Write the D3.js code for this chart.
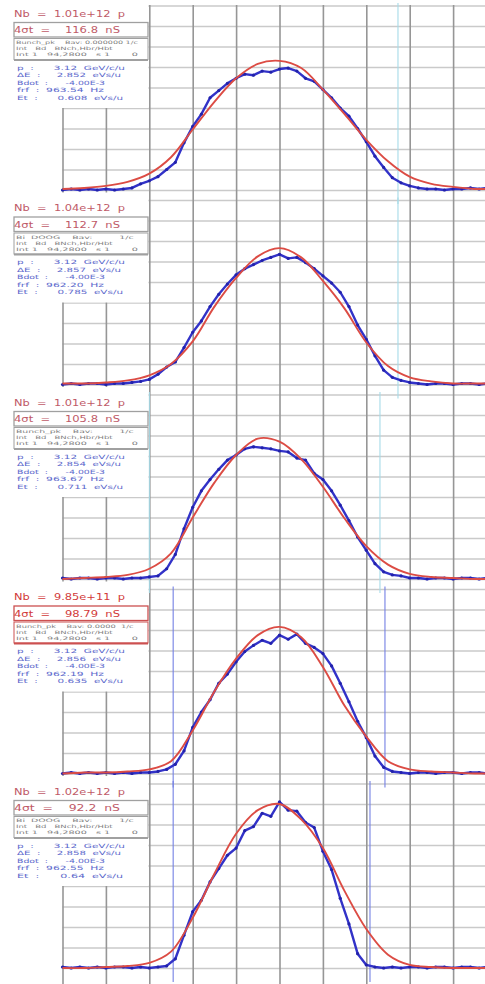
<!DOCTYPE html>
<html>
<head>
<meta charset="utf-8">
<script src="https://cdn.jsdelivr.net/npm/d3@7"></script>
<style>
  html, body { margin: 0; padding: 0; background: #fff; overflow: hidden; }
  text { white-space: pre; }
</style>
</head>
<body>
<div id="chart"></div>
<script>
// Five stacked bunch profiles: measured signal (blue) and gaussian fit (red).

// ── Data ──────────────────────────────────────────────────────
// time in ns, 20 ns per division
const T_BLUE = [-100,-96,-92,-88,-84,-80,-76,-72,-68,-64,-60,-56,-52,-48,-44,-40,-36,-32,-28,-24,
                -20,-16,-12,-8,-4,0,4,8,12,16,20,24,28,32,36,40,44,48,52,56,60,64,68,72,76,80,84,88,92,96];
const T_RED = [-100,-90,-80,-70,-60,-50,-40,-30,-20,-10,0,10,20,30,40,50,60,70,80,90,95];

// signal in a.u.
const BLUE_1 = [0,1,0,1,0,1,0,1,2,6, 9,13,20,27,46,62,74,90,97,104, 109,113,112,116,115,118,119,116,109,106, 98,90,80,72,60,47,33,22,12,7, 4,2,1,1,0,1,1,2,1,2];
const BLUE_2 = [0,1,0,1,1,0,1,1,2,3, 5,10,17,22,36,51,62,76,88,98, 107,113,117,121,124,127,123,124,119,113, 106,99,90,76,58,44,28,14,7,4, 2,1,0,1,1,0,1,1,0,1];
const BLUE_3 = [1,0,1,1,0,1,1,0,1,1, 2,3,10,24,49,70,86,97,107,116, 121,127,129,128,127,125,124,118,116,103, 97,86,72,57,41,28,15,7,4,3, 1,1,0,1,1,0,1,1,0,1];
const BLUE_4 = [0,1,0,1,0,1,0,1,0,1, 1,2,4,9,22,45,60,72,88,97, 109,119,125,130,127,135,131,136,127,123, 117,105,88,70,51,35,17,6,2,1, 0,1,1,0,1,1,0,1,1,0];
const BLUE_5 = [1,0,1,0,1,0,1,1,0,1, 0,1,2,9,32,55,66,84,97,110, 117,134,138,151,148,162,154,153,142,137, 114,96,68,43,14,3,1,0,1,0, 1,1,0,1,1,0,1,1,0,1];

const RED_1 = [1,2,4,8,16,32,59,86,109,123,126,119,98,74,49,28,13,6,3,1,1];
const RED_2 = [1,1,2,4,9,20,42,76,104,125,133,124,101,74,41,18,7,3,1,1,1];
const RED_3 = [0,1,2,4,10,25,60,94,121,137,134,117,90,59,32,14,5,2,1,0,0];
const RED_4 = [0,1,1,2,4,12,42,80,112,135,143,133,104,66,36,12,4,2,1,0,0];
const RED_5 = [0,0,1,2,5,16,49,92,131,154,160,145,117,75,38,13,3,1,0,0,0];

const NB       = ['1.01e+12', '1.04e+12', '1.01e+12', '9.85e+11', '1.02e+12'];
const SIGMA4   = ['116.8', '112.7', '105.8', '98.79', '92.2'];
const MOMENTUM = ['3.12', '3.12', '3.12', '3.12', '3.12'];
const DELTA_E  = ['2.852', '2.857', '2.854', '2.856', '2.858'];
const BDOT     = ['-4.00E-3', '-4.00E-3', '-4.00E-3', '-4.00E-3', '-4.00E-3'];
const FRF      = ['963.54', '962.20', '963.67', '962.19', '962.55'];
const EMIT     = ['0.608', '0.785', '0.711', '0.635', '0.64'];
const INFO = [
  ['Bunch_pk    Bav: 0.000000 1/c', 'Int   Bd   BNch,Hbr/Hbt', 'Int 1   94,2800   s 1       0'],
  ['Bi  DOOG    Bav:         1/c', 'Int   Bd   BNch,Hbr/Hbt', 'Int 1   94,2800   s 1       0'],
  ['Bunch_pk    Bav:         1/c', 'Int   Bd   BNch,Hbr/Hbt', 'Int 1   94,2800   s 1       0'],
  ['Bunch_pk    Bav: 0.0000  1/c', 'Int   Bd   BNch,Hbr/Hbt', 'Int 1   94,2800   s 1       0'],
  ['Bi  DOOG    Bav:         1/c', 'Int   Bd   BNch,Hbr/Hbt', 'Int 1   94,2800   s 1       0']
];
// cursor positions in ns
const CURSORS = [[54.6], [54.6], [-60, 46.3], [-49, 48.6], [-49, 41.7]];

const X_TICKS = [-100, -80, -60, -40, -20, 0, 20, 40, 60, 80];
const Y_TICKS = [0, 20, 40, 60, 80, 100, 120, 140, 160, 180];

const BLUES = [BLUE_1, BLUE_2, BLUE_3, BLUE_4, BLUE_5];
const REDS  = [RED_1, RED_2, RED_3, RED_4, RED_5];

// ── Layout ────────────────────────────────────────────────────
const W = 485, H = 984;
const BASE0 = 190, PANEL_H = 194.5;

const svg = d3.select('#chart').append('svg')
  .attr('width', W).attr('height', H).attr('xmlns', 'http://www.w3.org/2000/svg');
svg.append('rect').attr('width', W).attr('height', H).attr('fill', '#fff');

const x = d3.scaleLinear().domain([-100, 94.7]).range([62.5, 485]);

const font = "'DejaVu Sans', 'Liberation Sans', sans-serif";

// horizontal grids first, so the vertical divisions sit on top
const panels = BLUES.map((blue, i) => {
  const base = BASE0 + i * PANEL_H;
  const y = d3.scaleLinear().domain([0, 180]).range([base, base - 184.5]);
  svg.append('g').attr('transform', `translate(${x(-100)},0)`)
    .call(d3.axisLeft(y).tickValues(Y_TICKS).tickSize(-(W - x(-100))).tickFormat(''))
    .call(a => { a.select('.domain').remove(); a.selectAll('line').attr('stroke', '#cacaca').attr('stroke-width', 1.5); });
  return { base, top: base - 190, y };
});

// Vertical divisions run through all panels
svg.append('g').attr('transform', `translate(0,${H})`)
  .call(d3.axisBottom(x).tickValues(X_TICKS).tickSize(-(H - 5)).tickFormat(''))
  .call(g => { g.select('.domain').remove(); g.selectAll('line').attr('stroke', '#969696').attr('stroke-width', 1.6); });

panels.forEach(({ base, top, y }, i) => {
  const g = svg.append('g');

  // Cursors
  const cursorColor = i >= 3 ? '#7480e4' : '#a6dbe8';
  g.selectAll('.cursor').data(CURSORS[i]).enter().append('line')
    .attr('x1', d => x(d)).attr('x2', d => x(d))
    .attr('y1', top + 3).attr('y2', Math.min(H, base + 14))
    .attr('stroke', cursorColor).attr('stroke-width', 1.1);

  // Measured profile
  const pts = T_BLUE.map((t, j) => [t, BLUES[i][j]]);
  g.append('path').datum(pts)
    .attr('fill', 'none').attr('stroke', '#3232c8').attr('stroke-width', 2.4).attr('stroke-linejoin', 'round')
    .attr('d', d3.line().x(d => x(d[0])).y(d => y(d[1])));
  g.selectAll('.dot').data(pts).enter().append('circle')
    .attr('cx', d => x(d[0])).attr('cy', d => y(d[1]))
    .attr('r', 1.6).attr('fill', '#2222aa');

  // Gaussian fit
  const fit = T_RED.map((t, j) => [t, REDS[i][j]]);
  g.append('path').datum(fit)
    .attr('fill', 'none').attr('stroke', '#dc4c44').attr('stroke-width', 1.9)
    .attr('d', d3.line().x(d => x(d[0])).y(d => y(d[1])).curve(d3.curveCatmullRom.alpha(0.5)));

  // Info block
  const hot = i === 3;
  const txt = hot ? '#d23a3a' : '#c05a68';
  const rule = hot ? '#cc5050' : '#a0a0a0';
  g.append('rect').attr('x', 0).attr('y', top - 2).attr('width', 148.4).attr('height', 110).attr('fill', '#fff');

  const head = (s, yy, len) => g.append('text').attr('x', 14).attr('y', yy)
    .attr('font-family', font).attr('font-size', 8.6).attr('fill', txt)
    .attr('textLength', len).attr('lengthAdjust', 'spacingAndGlyphs').text(s);
  head(`Nb  =  ${NB[i]}  p`, top + 16.5, 111);
  g.append('rect').attr('x', 14).attr('y', top + 22.5).attr('width', 134).attr('height', 14.5)
    .attr('fill', 'none').attr('stroke', rule).attr('stroke-width', 1.3);
  head(`4σt  =    ${SIGMA4[i]}  nS`, top + 33, 106);

  g.append('rect').attr('x', 14).attr('y', top + 38.5).attr('width', 134).attr('height', 21)
    .attr('fill', 'none').attr('stroke', rule).attr('stroke-width', 1);
  g.append('line').attr('x1', 14).attr('x2', 148).attr('y1', top + 60).attr('y2', top + 60)
    .attr('stroke', rule).attr('stroke-width', 2);
  INFO[i].forEach((s, j) => {
    g.append('text').attr('x', 16).attr('y', top + 44 + j * 6.2)
      .attr('font-family', font).attr('font-size', 4.6).attr('fill', '#808080')
      .attr('textLength', s.length * 4.2).attr('lengthAdjust', 'spacingAndGlyphs').text(s);
  });

  const params = [
    [`p  :      ${MOMENTUM[i]}  GeV/c/u`, 108],
    [`ΔE  :     ${DELTA_E[i]}  eVs/u`, 104],
    [`Bdot  :      ${BDOT[i]}`, 88],
    [`frf  :  ${FRF[i]}  Hz`, 87],
    [`Et  :      ${EMIT[i]}  eVs/u`, 106]
  ];
  params.forEach(([s, len], j) => {
    g.append('text').attr('x', 17).attr('y', top + 69.5 + j * 7.5)
      .attr('font-family', font).attr('font-size', 5.8).attr('fill', '#5b68cc')
      .attr('textLength', len).attr('lengthAdjust', 'spacingAndGlyphs').text(s);
  });
});
</script>
</body>
</html>
